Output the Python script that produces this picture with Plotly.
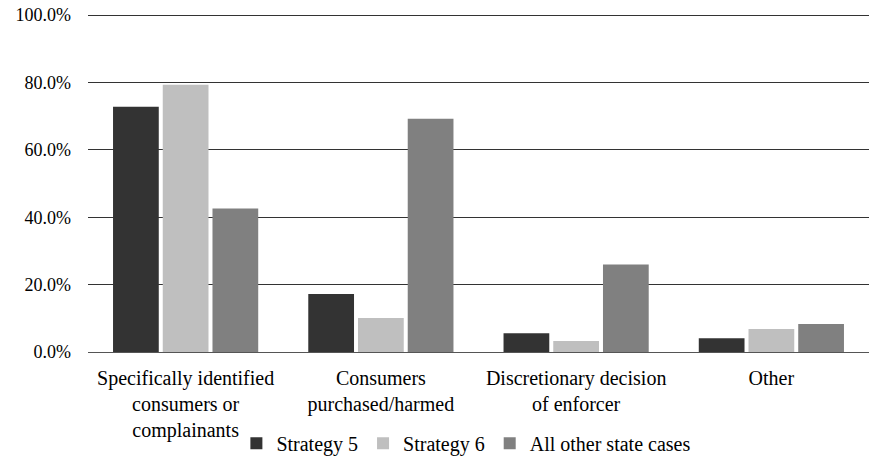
import plotly.graph_objects as go

categories = [
    "Specifically identified<br>consumers or<br>complainants",
    "Consumers<br>purchased/harmed",
    "Discretionary decision<br>of enforcer",
    "Other",
]
series_names = ["Strategy 5", "Strategy 6", "All other state cases"]
strategy5 = [0.728, 0.172, 0.056, 0.041]
strategy6 = [0.793, 0.101, 0.033, 0.068]
all_other = [0.426, 0.692, 0.260, 0.083]
colors = ["#333333", "#bfbfbf", "#808080"]
y_ticks = [0, 0.2, 0.4, 0.6, 0.8, 1.0]

fig = go.Figure()
for name, vals, col in zip(series_names, [strategy5, strategy6, all_other], colors):
    fig.add_trace(go.Bar(name=name, x=categories, y=vals, marker=dict(color=col, line=dict(width=0))))

serif = "Liberation Serif"
fig.update_layout(
    width=871, height=459,
    margin=dict(l=88, r=2, t=14, b=107, autoexpand=False),
    paper_bgcolor="white", plot_bgcolor="white",
    font=dict(family=serif, size=20, color="#000000"),
    barmode="group", bargap=0.236, bargroupgap=0.08,
    showlegend=True,
    legend=dict(orientation="h", x=0.19, xanchor="left", y=-0.27, yanchor="middle",
                font=dict(family=serif, size=20, color="#000000"), itemwidth=30,
                traceorder="normal", bgcolor="rgba(0,0,0,0)"),
    xaxis=dict(showgrid=False, showline=False, ticks="", ticklabelstandoff=12,
               automargin=False,
               tickfont=dict(family=serif, size=20, color="#000000")),
    yaxis=dict(range=[0, 1.003], tickvals=y_ticks, tickformat=".1%",
               showgrid=True, gridcolor="#333333", gridwidth=1,
               zeroline=True, zerolinecolor="#555555", zerolinewidth=1,
               showline=False, ticks="", ticklabelstandoff=16, automargin=False,
               tickfont=dict(family=serif, size=18, color="#000000")),
)

fig.write_html("out.html")
